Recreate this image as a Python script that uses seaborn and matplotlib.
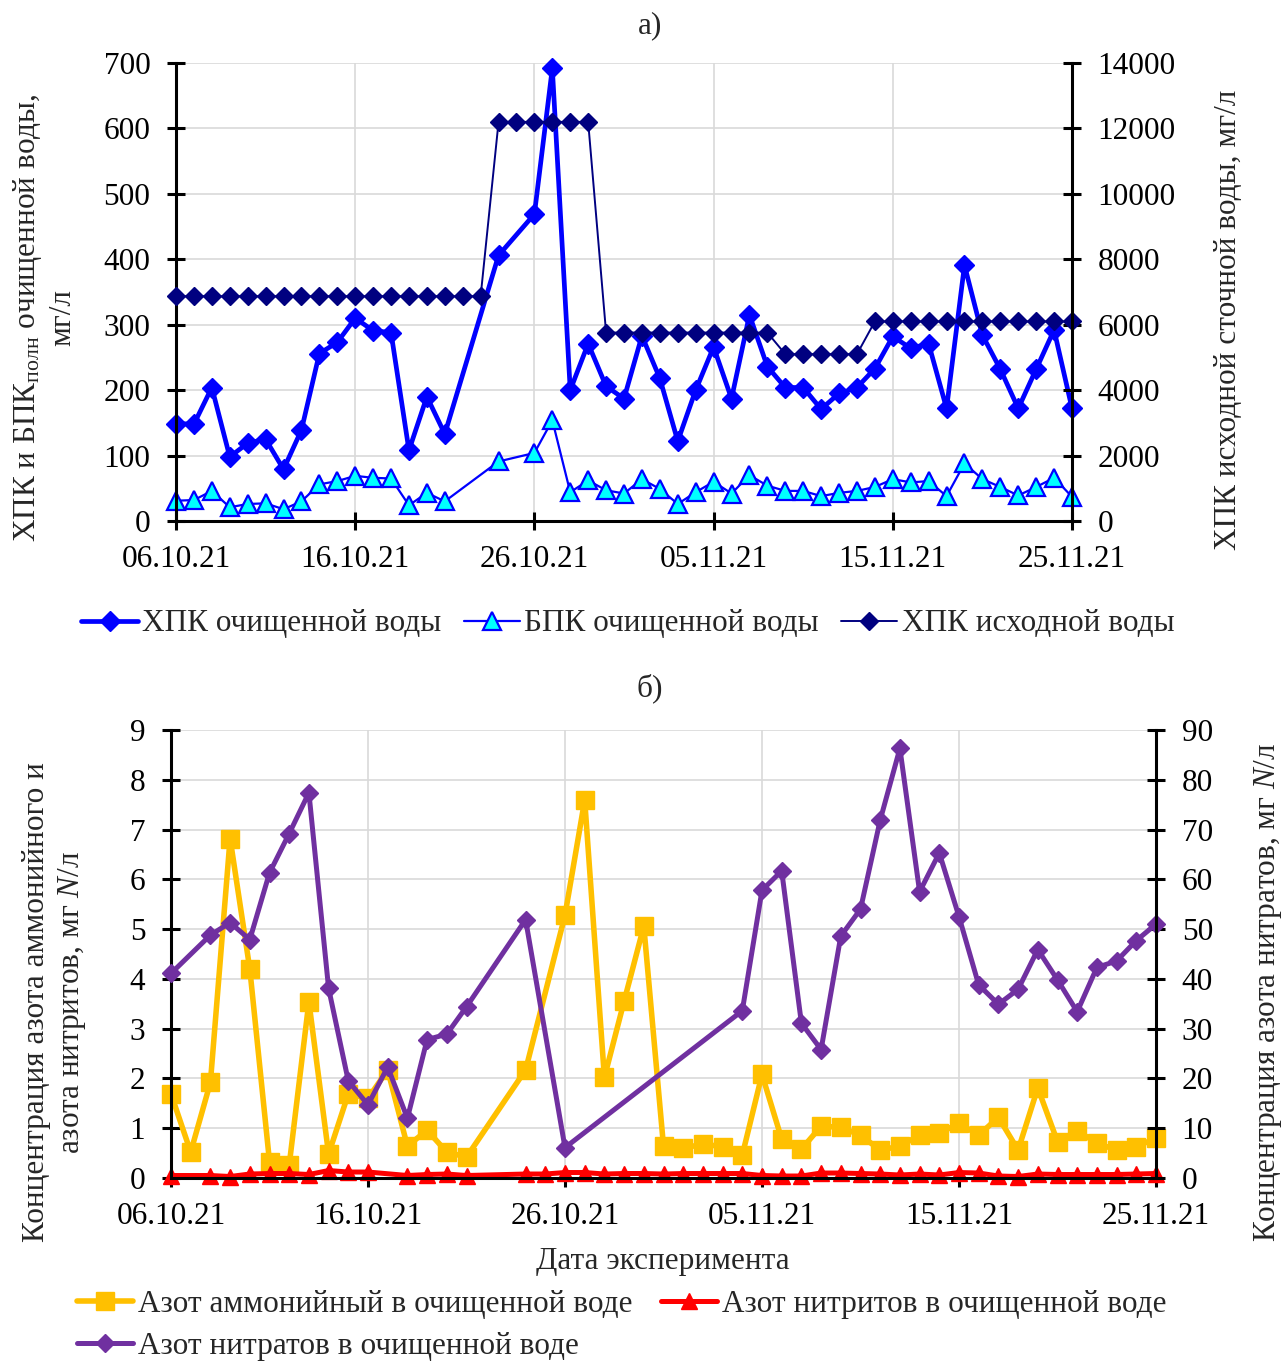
import numpy as np
import pandas as pd
import matplotlib
matplotlib.use("Agg")
import matplotlib.pyplot as plt
import matplotlib.lines as mlines
import seaborn as sns

# ---------------- data ----------------
start_date = "2021-10-06"
n_days = 51
N = None

# panel а) — COD / BOD, mg/l (one value per day, None = no measurement)
cod_treated = [149, 148, 204, 98, 119, 125, 79, 139, 256, 273,
               310, 291, 288, 108, 190, 133, N, N, 406, N,
               469, 692, 200, 271, 206, 187, 283, 218, 122, 200,
               266, 187, 315, 236, 204, 204, 171, 195, 204, 233,
               282, 264, 271, 172, 391, 284, 232, 172, 232, 292,
               172]
bod_treated = [31, 32, 46, 21, 26, 27, 18, 30, 56, 61,
               69, 66, 65, 24, 43, 30, N, N, 91, N,
               104, 154, 44, 62, 47, 42, 64, 49, 26, 44,
               60, 42, 70, 54, 46, 46, 38, 43, 46, 52,
               64, 59, 61, 38, 88, 64, 52, 39, 52, 66,
               37]
cod_raw = [6870] * 18 + [12200] * 6 + [5760] * 10 + [5100] * 5 + [6100] * 12

# panel б) — nitrogen forms, mg N/l
ammonium = [1.69, 0.52, 1.92, 6.82, 4.20, 0.33, 0.26, 3.54, 0.48, 1.69,
            1.60, 2.17, 0.64, 0.96, 0.52, 0.42, N, N, 2.17, N,
            5.28, 7.59, 2.02, 3.55, 5.06, 0.64, 0.60, 0.68, 0.63, 0.46,
            2.08, 0.78, 0.58, 1.04, 1.02, 0.86, 0.56, 0.64, 0.86, 0.90,
            1.10, 0.86, 1.22, 0.56, 1.81, 0.73, 0.95, 0.70, 0.56, 0.63,
            0.80]
nitrite = [0.05, N, 0.05, 0.03, 0.08, 0.09, 0.09, 0.07, 0.15, 0.12,
           0.12, N, 0.05, 0.07, 0.08, 0.05, N, N, 0.08, 0.08,
           0.11, 0.11, 0.08, 0.09, 0.09, 0.08, 0.09, 0.09, 0.09, 0.09,
           0.05, 0.04, 0.04, 0.10, 0.10, 0.09, 0.08, 0.06, 0.08, 0.06,
           0.11, 0.10, 0.04, 0.03, 0.08, 0.07, 0.07, 0.07, 0.07, 0.08,
           0.09]
nitrate = [41.1, N, 48.8, 51.3, 47.9, 61.3, 69.2, 77.4, 38.1, 19.5,
           14.7, 22.3, 12.0, 27.8, 28.9, 34.4, N, N, 51.9, N,
           6.1, N, N, N, N, N, N, N, N, 33.6,
           57.8, 61.7, 31.1, 25.8, 48.6, 54.0, 71.9, 86.3, 57.5, 65.3,
           52.5, 38.8, 34.9, 37.9, 45.9, 39.8, 33.4, 42.3, 43.6, 47.7,
           51.0]

date_ticks = ["06.10.21", "16.10.21", "26.10.21", "05.11.21", "15.11.21", "25.11.21"]

top_labels = ["ХПК очищенной воды", "БПК очищенной воды", "ХПК исходной воды"]
bottom_labels = ["Азот аммонийный в очищенной воде",
                 "Азот нитратов в очищенной воде",
                 "Азот нитритов в очищенной воде"]

# ---------------- style ----------------
sns.set_theme(style="white")
plt.rcParams["font.family"] = ["Liberation Serif", "DejaVu Serif"]
plt.rcParams["mathtext.fontset"] = "custom"
plt.rcParams["mathtext.rm"] = "Liberation Serif"
plt.rcParams["mathtext.it"] = "Liberation Serif:italic"

FS = 22.5
GRID = "#d9d9d9"
W, H = 1288, 1363
dates = pd.date_range(start_date, periods=n_days, freq="D")


def series(values):
    s = pd.Series(values, index=dates, dtype=float).dropna()
    return pd.DataFrame({"date": s.index, "value": s.values})


def draw(ax, values, **kw):
    d = series(values)
    sns.lineplot(data=d, x="date", y="value", ax=ax, estimator=None,
                 sort=False, legend=False, clip_on=False, **kw)


def frame(ax, right=False):
    for side in ("top", "left", "right", "bottom"):
        ax.spines[side].set_visible(False)
    if right:
        ax.spines["right"].set_visible(True)
        ax.spines["right"].set_linewidth(2.2)
        ax.spines["right"].set_color("black")
    else:
        for side in ("left", "bottom"):
            ax.spines[side].set_visible(True)
            ax.spines[side].set_linewidth(2.2)
            ax.spines[side].set_color("black")
    ax.tick_params(axis="y", direction="inout", length=13, width=2.2,
                   pad=12, labelsize=FS, colors="black",
                   left=not right, right=right,
                   labelleft=not right, labelright=right)
    ax.set_xlabel("")
    ax.set_ylabel("")


def date_axis(ax):
    ax.set_xlim(dates[0], dates[-1])
    tick_pos = dates[::10]
    ax.set_xticks(tick_pos)
    ax.set_xticklabels(date_ticks)
    ax.tick_params(axis="x", direction="inout", length=13, width=2.2,
                   pad=11, labelsize=FS, colors="black", bottom=True)


def ax_rect(l, r, t, b):
    return [l / W, 1 - b / H, (r - l) / W, (b - t) / H]


fig = plt.figure(figsize=(W / 100, H / 100), dpi=100)

# ======================= panel а) =======================
ax1 = fig.add_axes(ax_rect(176, 1072, 63, 521))
ax1.set_axisbelow(True)
ax1.grid(True, color=GRID, linewidth=1.2)

blue_kw = dict(color="#0000FF", linewidth=3.4, marker="D", markersize=10,
               markerfacecolor="#0000FF", markeredgecolor="#0000FF",
               markeredgewidth=1)
cyan_kw = dict(color="#0000FF", linewidth=1.6, marker="^", markersize=13,
               markerfacecolor="#00FFFF", markeredgecolor="#0000FF",
               markeredgewidth=1.6)
navy_kw = dict(color="#000080", linewidth=1.4, marker="D", markersize=9,
               markerfacecolor="#000080", markeredgecolor="#000080",
               markeredgewidth=1)

draw(ax1, cod_treated, **blue_kw)
draw(ax1, bod_treated, **cyan_kw)
ax1.set_ylim(0, 700)
ax1.set_yticks(np.arange(0, 701, 100))
date_axis(ax1)
frame(ax1)

ax2 = ax1.twinx()
draw(ax2, cod_raw, **navy_kw)
ax2.set_ylim(0, 14000)
ax2.set_yticks(np.arange(0, 14001, 2000))
ax2.grid(False)
frame(ax2, right=True)
ax2.set_xlim(dates[0], dates[-1])

fig.text(650 / W, 1 - 26 / H, "а)", ha="center", va="center", fontsize=FS)
fig.text(44 / W, 1 - 318 / H,
         "ХПК и БПК$_{\\mathrm{полн}}$ очищенной воды,\nмг/л",
         rotation=90, ha="center", va="center", multialignment="center",
         fontsize=FS, linespacing=1.2)
fig.text(1228 / W, 1 - 320 / H, "ХПК исходной сточной воды, мг/л",
         rotation=90, ha="center", va="center", fontsize=FS)

top_handles = [mlines.Line2D([], [], **blue_kw),
               mlines.Line2D([], [], **cyan_kw),
               mlines.Line2D([], [], **navy_kw)]
fig.legend(top_handles, top_labels, loc="center",
           bbox_to_anchor=(628 / W, 1 - 624 / H), ncol=3, frameon=False,
           fontsize=FS, handlelength=1.8, handletextpad=0.15,
           columnspacing=0.7, borderpad=0, borderaxespad=0)

# ======================= panel б) =======================
ax3 = fig.add_axes(ax_rect(171, 1156, 730, 1178))
ax3.set_axisbelow(True)
ax3.grid(True, color=GRID, linewidth=1.2)

yellow_kw = dict(color="#FFC000", linewidth=4.0, marker="s", markersize=13,
                 markerfacecolor="#FFC000", markeredgecolor="#FFC000",
                 markeredgewidth=1)
red_kw = dict(color="#FF0000", linewidth=3.6, marker="^", markersize=12,
              markerfacecolor="#FF0000", markeredgecolor="#FF0000",
              markeredgewidth=1)
purple_kw = dict(color="#7030A0", linewidth=3.6, marker="D", markersize=9,
                 markerfacecolor="#7030A0", markeredgecolor="#7030A0",
                 markeredgewidth=1)

draw(ax3, ammonium, **yellow_kw)
draw(ax3, nitrite, **red_kw)
ax3.set_ylim(0, 9)
ax3.set_yticks(np.arange(0, 10, 1))
date_axis(ax3)
frame(ax3)

ax4 = ax3.twinx()
draw(ax4, nitrate, **purple_kw)
ax4.set_ylim(0, 90)
ax4.set_yticks(np.arange(0, 91, 10))
ax4.grid(False)
frame(ax4, right=True)
ax4.set_xlim(dates[0], dates[-1])

fig.text(650 / W, 1 - 688 / H, "б)", ha="center", va="center", fontsize=FS)
fig.text(663 / W, 1 - 1261 / H, "Дата эксперимента",
         ha="center", va="center", fontsize=FS)
fig.text(55 / W, 1 - 1002 / H,
         "Концентрация азота аммонийного и\nазота нитритов, мг $N$/л",
         rotation=90, ha="center", va="center", multialignment="center",
         fontsize=FS, linespacing=1.2)
fig.text(1268 / W, 1 - 992 / H, "Концентрация азота нитратов, мг $N$/л",
         rotation=90, ha="center", va="center", fontsize=FS)

bottom_handles = [mlines.Line2D([], [], **yellow_kw),
                  mlines.Line2D([], [], **purple_kw),
                  mlines.Line2D([], [], **red_kw)]
fig.legend(bottom_handles, bottom_labels, loc="upper left",
           bbox_to_anchor=(77 / W, 1 - 1290 / H), ncol=2, frameon=False,
           fontsize=FS, handlelength=1.8, handletextpad=0.15,
           columnspacing=0.9, labelspacing=0.42, borderpad=0,
           borderaxespad=0)

fig.savefig("out.png", dpi=100, facecolor="white")
